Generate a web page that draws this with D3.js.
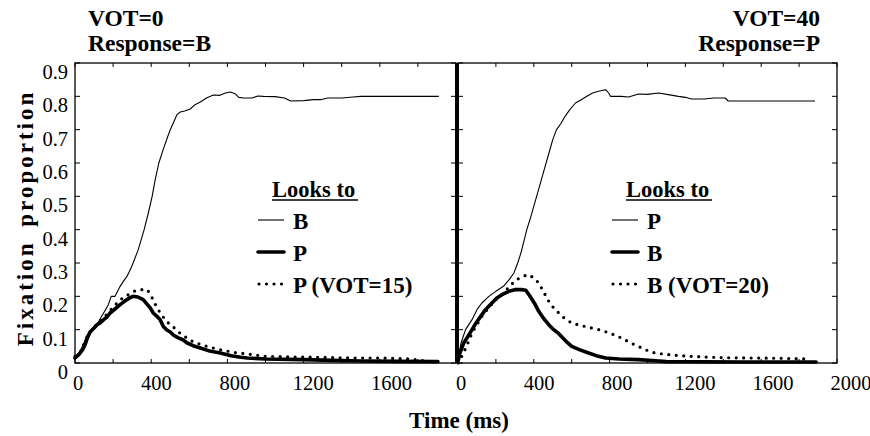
<!DOCTYPE html>
<html>
<head>
<meta charset="utf-8">
<script src="https://cdn.jsdelivr.net/npm/d3@7"></script>
</head>
<body style="margin:0">
<div id="container"></div>
<script>
/** CONSTANTS AND GLOBALS */
const width = 870,
  height = 436;

// time (ms), fixation proportion
const leftTarget = [[0,0.02],[20,0.03],[40,0.05],[60,0.08],[80,0.095],[100,0.11],[120,0.12],[140,0.14],[160,0.16],[175,0.175],[190,0.2],[210,0.2],[237,0.23],[260,0.25],[273,0.26],[290,0.28],[305,0.3],[332,0.34],[363,0.4],[385,0.45],[405,0.5],[421,0.55],[440,0.6],[463,0.64],[484,0.675],[500,0.7],[516,0.72],[535,0.745],[553,0.753],[580,0.757],[605,0.762],[630,0.775],[658,0.783],[690,0.795],[726,0.804],[760,0.803],[790,0.81],[816,0.813],[840,0.808],[860,0.797],[884,0.795],[930,0.795],[960,0.801],[989,0.8],[1050,0.799],[1100,0.795],[1132,0.786],[1200,0.787],[1253,0.79],[1290,0.79],[1326,0.795],[1400,0.795],[1460,0.798],[1500,0.8],[1910,0.8]];
const leftCompetitor = [[0,0.015],[20,0.025],[40,0.04],[53,0.055],[65,0.075],[79,0.093],[100,0.105],[116,0.115],[132,0.12],[150,0.13],[168,0.138],[184,0.15],[210,0.162],[237,0.175],[260,0.185],[285,0.195],[305,0.2],[330,0.198],[358,0.19],[379,0.176],[395,0.165],[411,0.15],[430,0.14],[447,0.13],[463,0.11],[480,0.1],[500,0.093],[516,0.084],[540,0.076],[568,0.069],[589,0.06],[620,0.052],[658,0.045],[700,0.037],[763,0.03],[820,0.022],[870,0.017],[905,0.015],[1000,0.012],[1200,0.01],[1350,0.008],[1500,0.006],[1700,0.005],[1905,0.004]];
const leftCompetitor15 = [[0,0.02],[30,0.035],[60,0.075],[90,0.1],[120,0.12],[150,0.135],[180,0.155],[221,0.18],[250,0.195],[280,0.205],[310,0.215],[340,0.22],[380,0.22],[405,0.195],[431,0.165],[460,0.14],[490,0.12],[516,0.108],[560,0.085],[621,0.063],[690,0.05],[763,0.04],[830,0.032],[905,0.027],[1000,0.02],[1150,0.018],[1300,0.017],[1450,0.015],[1600,0.015],[1750,0.012],[1850,0.006]];

const rightTarget = [[0,0.01],[16,0.06],[40,0.1],[74,0.13],[100,0.16],[126,0.18],[163,0.2],[200,0.215],[240,0.23],[270,0.25],[295,0.27],[315,0.3],[332,0.33],[350,0.37],[363,0.4],[385,0.44],[410,0.49],[430,0.53],[455,0.58],[480,0.63],[500,0.67],[520,0.7],[545,0.72],[565,0.74],[590,0.76],[620,0.78],[650,0.79],[680,0.8],[710,0.81],[742,0.815],[779,0.82],[795,0.81],[805,0.8],[860,0.8],[900,0.798],[953,0.807],[1000,0.806],[1058,0.81],[1110,0.805],[1163,0.8],[1200,0.797],[1232,0.792],[1300,0.792],[1350,0.795],[1410,0.795],[1426,0.786],[1884,0.786]];
const rightCompetitor = [[0,0.005],[10,0.03],[30,0.06],[58,0.085],[74,0.1],[95,0.12],[120,0.14],[145,0.16],[179,0.18],[205,0.195],[232,0.205],[268,0.215],[300,0.22],[340,0.22],[358,0.218],[380,0.2],[405,0.178],[426,0.155],[450,0.135],[479,0.115],[505,0.1],[532,0.088],[565,0.068],[600,0.05],[640,0.04],[689,0.03],[730,0.022],[779,0.015],[850,0.012],[953,0.01],[1060,0.006],[1100,0.004],[1500,0.003],[1890,0.003]];
const rightCompetitor20 = [[0,0.0],[20,0.02],[45,0.05],[74,0.09],[100,0.115],[126,0.14],[160,0.165],[200,0.19],[240,0.21],[280,0.235],[310,0.25],[340,0.26],[374,0.265],[400,0.255],[426,0.24],[450,0.215],[479,0.185],[505,0.165],[532,0.15],[560,0.135],[600,0.12],[637,0.114],[690,0.107],[742,0.1],[800,0.09],[863,0.075],[920,0.058],[970,0.045],[1021,0.032],[1070,0.028],[1126,0.024],[1200,0.021],[1305,0.018],[1400,0.016],[1550,0.015],[1700,0.014],[1850,0.012]];

const yTicks = [0, 0.1, 0.2, 0.3, 0.4, 0.5, 0.6, 0.7, 0.8, 0.9];
const xTickLabels = [0, 400, 800, 1200, 1600];
const xTickLabelsRight = [0, 400, 800, 1200, 1600, 2000];

const panels = [
  { range: [75, 456], title: ["VOT=0", "Response=B"], titleX: 88, anchor: "start",
    legend: ["B", "P", "P (VOT=15)"], legendX: 258,
    series: [leftTarget, leftCompetitor, leftCompetitor15], xLabels: xTickLabels },
  { range: [458, 837], title: ["VOT=40", "Response=P"], titleX: 820, anchor: "end",
    legend: ["P", "B", "B (VOT=20)"], legendX: 612,
    series: [rightTarget, rightCompetitor, rightCompetitor20], xLabels: xTickLabelsRight }
];

const styles = [
  { width: 1.1, dash: null, cap: "butt" },
  { width: 3.6, dash: null, cap: "round" },
  { width: 3.2, dash: "0 7.5", cap: "round" }
];

const faceName = "Liberation Serif";

const y = d3.scaleLinear().domain([0, 0.9]).range([363, 63]);

const svg = d3.select("#container")
  .append("svg")
  .attr("width", width)
  .attr("height", height);

function label(parent, size, bold) {
  return parent.append("text")
    .attr("font-size", size)
    .attr("font-weight", bold ? "bold" : "normal")
    .style("font-family", `"${faceName}"`);
}

panels.forEach((p, pi) => {
  const x = d3.scaleLinear().domain([0, 2000]).range(p.range);
  const g = svg.append("g");

  // frame
  g.append("rect")
    .attr("x", p.range[0]).attr("y", y(0.9))
    .attr("width", p.range[1] - p.range[0]).attr("height", y(0) - y(0.9))
    .attr("fill", "none").attr("stroke", "#000").attr("stroke-width", 1.3);
  // heavier shared divider
  const dx = pi === 0 ? p.range[1] : p.range[0];
  g.append("line")
    .attr("x1", dx).attr("x2", dx)
    .attr("y1", y(0.9)).attr("y2", y(0))
    .attr("stroke", "#000").attr("stroke-width", 2);

  // inward ticks, every 200 ms and 0.1
  const xt = d3.range(0, 2001, 200);
  g.selectAll(".xtb").data(xt).join("line")
    .attr("x1", d => x(d)).attr("x2", d => x(d))
    .attr("y1", y(0)).attr("y2", y(0) - 4)
    .attr("stroke", "#000").attr("stroke-width", 1);
  g.selectAll(".xtt").data(xt).join("line")
    .attr("x1", d => x(d)).attr("x2", d => x(d))
    .attr("y1", y(0.9)).attr("y2", y(0.9) + 4)
    .attr("stroke", "#000").attr("stroke-width", 1);
  g.selectAll(".ytl").data(yTicks).join("line")
    .attr("x1", p.range[0]).attr("x2", p.range[0] + 5)
    .attr("y1", d => y(d)).attr("y2", d => y(d))
    .attr("stroke", "#000").attr("stroke-width", 1);
  g.selectAll(".ytr").data(yTicks).join("line")
    .attr("x1", p.range[1]).attr("x2", p.range[1] - 5)
    .attr("y1", d => y(d)).attr("y2", d => y(d))
    .attr("stroke", "#000").attr("stroke-width", 1);

  // x tick labels (the original sets them a little right of their ticks)
  p.xLabels.forEach(d => {
    label(g, 20.5, false)
      .attr("x", x(d) + 3 + d * 0.0055).attr("y", 390)
      .attr("text-anchor", "middle")
      .text(d);
  });

  // curves
  const line = d3.line().x(d => x(d[0])).y(d => y(d[1]));
  p.series.forEach((s, i) => {
    g.append("path")
      .attr("d", line(s))
      .attr("fill", "none").attr("stroke", "#000")
      .attr("stroke-width", styles[i].width)
      .attr("stroke-dasharray", styles[i].dash)
      .attr("stroke-linecap", styles[i].cap)
      .attr("stroke-linejoin", "round");
  });

  // titles
  p.title.forEach((t, i) => {
    label(svg, 23.5, true)
      .attr("x", p.titleX).attr("y", 26 + i * 25)
      .attr("text-anchor", p.anchor)
      .text(t);
  });

  // legend
  const lx = p.legendX;
  label(g, 22.5, true)
    .attr("x", lx + 14).attr("y", 197)
    .text("Looks to");
  g.append("line")
    .attr("x1", lx + 14).attr("x2", lx + 100)
    .attr("y1", 200).attr("y2", 200)
    .attr("stroke", "#000").attr("stroke-width", 1.5);
  p.legend.forEach((name, i) => {
    const ly = 220 + i * 32;
    g.append("line")
      .attr("x1", lx + (i === 2 ? 1 : 0)).attr("x2", lx + 26)
      .attr("y1", ly).attr("y2", ly)
      .attr("stroke", "#000")
      .attr("stroke-width", styles[i].width)
      .attr("stroke-dasharray", styles[i].dash)
      .attr("stroke-linecap", styles[i].cap);
    label(g, 23, true)
      .attr("x", lx + 35).attr("y", ly + 9)
      .text(name);
  });
});

// y tick labels (left panel only)
yTicks.forEach(d => {
  label(svg, 20.5, false)
    .attr("x", 68).attr("y", y(d) + 16)
    .attr("text-anchor", "end")
    .text(d === 0 ? "0" : d3.format(".1f")(d));
});

// axis titles
label(svg, 23, true)
  .attr("transform", "translate(33,218) rotate(-90)")
  .attr("text-anchor", "middle")
  .attr("letter-spacing", 3).attr("word-spacing", 5)
  .text("Fixation proportion");

label(svg, 23, true)
  .attr("x", 459).attr("y", 428)
  .attr("text-anchor", "middle")
  .text("Time (ms)");
</script>
</body>
</html>
